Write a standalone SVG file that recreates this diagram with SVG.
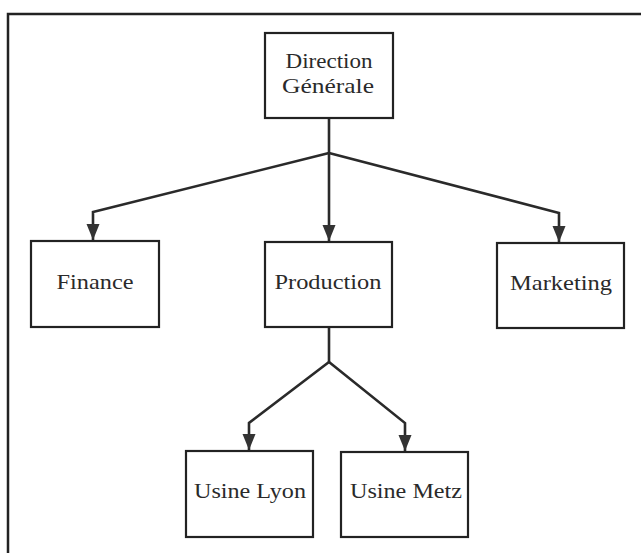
<svg xmlns="http://www.w3.org/2000/svg" width="641" height="553" viewBox="0 0 641 553">
<style>
.box{fill:#fff;stroke:#222;stroke-width:2.2}
.lbl{font-family:"Liberation Serif","Times New Roman",serif;font-size:22px;fill:#2a2a2a;text-anchor:middle}
.con{fill:none;stroke:#2a2a2a;stroke-width:2.6;stroke-linejoin:miter}
.frame{fill:none;stroke:#222;stroke-width:2.5}
</style>
<defs>
<marker id="arrd" markerUnits="userSpaceOnUse" markerWidth="16" markerHeight="18" viewBox="0 0 16 18" refX="8" refY="17" orient="0">
<path d="M1.5,1 L14.5,1 L8,17 z" fill="#333"/>
</marker>
</defs>
<path class="frame" d="M8,553 L8,14 L641,14"/>
<g id="connectors">
<path class="con" d="M329,118 L329,153"/>
<path class="con" d="M329,153 L93,212 L93,240" marker-end="url(#arrd)"/>
<path class="con" d="M329,153 L329,241" marker-end="url(#arrd)"/>
<path class="con" d="M329,153 L559,213 L559,242" marker-end="url(#arrd)"/>
<path class="con" d="M329,327 L329,362"/>
<path class="con" d="M329,362 L249,423 L249,450" marker-end="url(#arrd)"/>
<path class="con" d="M329,362 L405,423 L405,451" marker-end="url(#arrd)"/>
</g>
<g id="direction">
<rect class="box" x="265" y="33" width="128" height="85"/>
<text class="lbl" x="329" y="68" textLength="87" lengthAdjust="spacingAndGlyphs">Direction</text>
<text class="lbl" x="328" y="93" textLength="92" lengthAdjust="spacingAndGlyphs">Générale</text>
</g>
<g id="finance">
<rect class="box" x="31" y="241" width="128" height="86"/>
<text class="lbl" x="95" y="289" textLength="77" lengthAdjust="spacingAndGlyphs">Finance</text>
</g>
<g id="production">
<rect class="box" x="265" y="242" width="127" height="85"/>
<text class="lbl" x="328" y="289" textLength="107" lengthAdjust="spacingAndGlyphs">Production</text>
</g>
<g id="marketing">
<rect class="box" x="497" y="243" width="127" height="85"/>
<text class="lbl" x="561" y="290" textLength="102" lengthAdjust="spacingAndGlyphs">Marketing</text>
</g>
<g id="usine-lyon">
<rect class="box" x="186" y="451" width="127" height="86"/>
<text class="lbl" x="250" y="498" textLength="112" lengthAdjust="spacingAndGlyphs">Usine Lyon</text>
</g>
<g id="usine-metz">
<rect class="box" x="341" y="452" width="127" height="85"/>
<text class="lbl" x="406" y="498" textLength="112" lengthAdjust="spacingAndGlyphs">Usine Metz</text>
</g>
</svg>
